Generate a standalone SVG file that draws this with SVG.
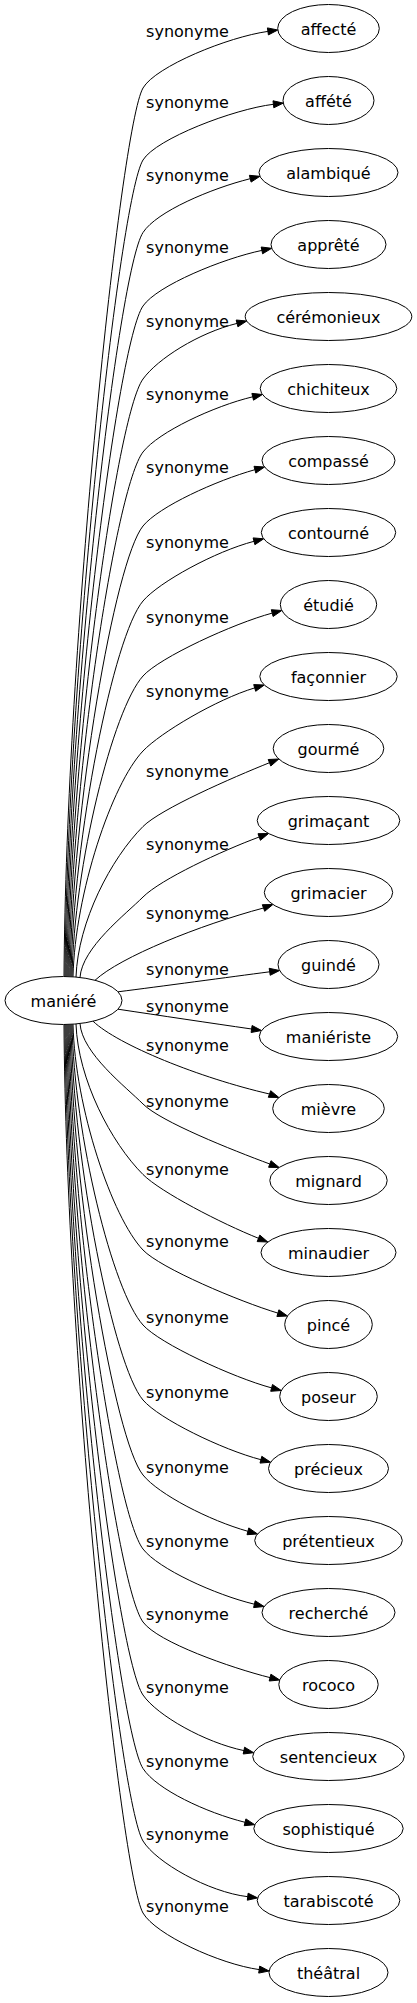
<svg xmlns="http://www.w3.org/2000/svg" width="417" height="2003" viewBox="0 0 417 2003">
<style>
.e{fill:none;stroke:#000;stroke-width:1}
.a{fill:#000;stroke:#000;stroke-width:1}
.n{fill:#fff;stroke:#000;stroke-width:1}
.t{font-family:"DejaVu Sans",Verdana,sans-serif;font-size:16px;fill:#000;text-anchor:middle}
</style>
<rect width="417" height="2003" fill="#fff"/>
<g id="connectors">
<g id="e0"><path class="e" d="M64,976.5 C66,647.8 120.5,127 143,88 C155.5,66.4 228.3,36.9 267.9,31.4"/><polygon class="a" points="277.8,30 268.4,34.9 267.4,27.9"/><text class="t" x="187.5" y="36.5">synonyme</text></g>
<g id="e1"><path class="e" d="M65,976.5 C67,674.4 119.5,198.4 143,160 C156.1,138.7 233.7,109.1 273.4,104.3"/><polygon class="a" points="283.3,103.1 273.8,107.8 273,100.8"/><text class="t" x="187.5" y="108.2">synonyme</text></g>
<g id="e2"><path class="e" d="M66,976.5 C68,701.2 118.5,270.2 143,232.5 C156.6,211.5 211.4,188.4 250.2,178.7"/><polygon class="a" points="259.9,176.3 251.1,182.1 249.4,175.3"/><text class="t" x="187.5" y="180.7">synonyme</text></g>
<g id="e3"><path class="e" d="M67,976.5 C69,728.4 117.5,343.1 143,306 C157.2,285.4 222.8,258.6 261.9,250.4"/><polygon class="a" points="271.7,248.3 262.6,253.8 261.2,247"/><text class="t" x="187.5" y="253.2">synonyme</text></g>
<g id="e4"><path class="e" d="M68,976.6 C70,755.5 116.5,415.4 143,379 C157.7,358.8 198.2,333.1 237,323.4"/><polygon class="a" points="246.7,321 237.9,326.8 236.2,320"/><text class="t" x="187.5" y="326.5">synonyme</text></g>
<g id="e5"><path class="e" d="M69,976.6 C71,782.5 115.6,487.7 143,452 C158.2,432.2 213.8,406.1 252.7,396.8"/><polygon class="a" points="262.4,394.5 253.5,400.2 251.9,393.4"/><text class="t" x="187.5" y="399.8">synonyme</text></g>
<g id="e6"><path class="e" d="M70,976.6 C72,809.9 114.7,561 143,526 C158.7,506.6 216.4,480.5 254.9,469.7"/><polygon class="a" points="264.5,467 255.8,473.1 254,466.3"/><text class="t" x="187.5" y="473.2">synonyme</text></g>
<g id="e7"><path class="e" d="M71,976.7 C73,837.7 113.8,635.2 143,601 C159.2,582 215.3,551.4 254,541.3"/><polygon class="a" points="263.7,538.8 254.9,544.7 253.1,537.9"/><text class="t" x="187.5" y="548.2">synonyme</text></g>
<g id="e8"><path class="e" d="M72,976.8 C74,865.5 112.9,709.4 143,676 C159.7,657.4 233.6,623.5 272.2,613.1"/><polygon class="a" points="281.8,610.5 273.1,616.5 271.3,609.7"/><text class="t" x="187.5" y="623.2">synonyme</text></g>
<g id="e9"><path class="e" d="M73,976.8 C75,893.3 112,783.6 143,751 C160.2,732.9 216.4,699.4 254.7,687.9"/><polygon class="a" points="264.3,685 255.7,691.3 253.7,684.6"/><text class="t" x="187.5" y="697.3">synonyme</text></g>
<g id="e10"><path class="e" d="M76,977.1 C78,921.4 111.2,858.3 143,826.5 C160.7,808.8 232.4,777.6 269.5,762.7"/><polygon class="a" points="278.8,759 270.8,766 268.2,759.5"/><text class="t" x="187.5" y="776.5">synonyme</text></g>
<g id="e11"><path class="e" d="M80,977.5 C82,947.7 125.9,914.1 143,897 C160.7,879.3 221.7,850.9 259.2,837"/><polygon class="a" points="268.6,833.5 260.4,840.3 258,833.7"/><text class="t" x="187.5" y="849.8">synonyme</text></g>
<g id="e12"><path class="e" d="M95,980.3 C120,957 200,925 263.5,908"/><polygon class="a" points="272.9,904.5 264.7,911.3 262.3,904.7"/><text class="t" x="187.5" y="919">synonyme</text></g>
<g id="e13"><path class="e" d="M118,991.8 C160,986.5 230,977 269.7,971.8"/><polygon class="a" points="279.6,970.5 270.2,975.3 269.2,968.3"/><text class="t" x="187.5" y="974.8">synonyme</text></g>
<g id="e14"><path class="e" d="M118,1009.2 C160,1015.5 210,1023 251.6,1029"/><polygon class="a" points="261.5,1030.5 251.1,1032.5 252.1,1025.5"/><text class="t" x="187.5" y="1012.3">synonyme</text></g>
<g id="e15"><path class="e" d="M93,1021.2 C118,1045 200,1078 269.5,1094"/><polygon class="a" points="278.9,1097.5 268.3,1097.3 270.7,1090.7"/><text class="t" x="187.5" y="1050.7">synonyme</text></g>
<g id="e16"><path class="e" d="M80,1023.5 C82,1053.3 125.9,1086.9 143,1104 C160.7,1121.7 232.3,1150.1 269.8,1164"/><polygon class="a" points="279.2,1167.5 268.6,1167.3 271,1160.7"/><text class="t" x="187.5" y="1106.5">synonyme</text></g>
<g id="e17"><path class="e" d="M76,1023.9 C78,1079.6 111.2,1142.7 143,1174.5 C160.7,1192.2 221.4,1223.4 258.5,1238.3"/><polygon class="a" points="267.8,1242 257.2,1241.6 259.8,1235.1"/><text class="t" x="187.5" y="1174.8">synonyme</text></g>
<g id="e18"><path class="e" d="M73,1024.2 C75,1107.7 112,1217.4 143,1250 C160.2,1268.1 239.6,1301.6 277.9,1313.1"/><polygon class="a" points="287.5,1316 276.9,1316.5 278.9,1309.8"/><text class="t" x="187.5" y="1246.5">synonyme</text></g>
<g id="e19"><path class="e" d="M72,1024.2 C74,1135.5 112.9,1291.6 143,1325 C159.7,1343.6 233,1377.5 271.6,1387.9"/><polygon class="a" points="281.3,1390.5 270.7,1391.3 272.5,1384.5"/><text class="t" x="187.5" y="1323.2">synonyme</text></g>
<g id="e20"><path class="e" d="M71,1024.3 C73,1163.3 113.8,1365.8 143,1400 C159.2,1419 222.2,1449.6 260.9,1459.7"/><polygon class="a" points="270.6,1462.2 260,1463.1 261.8,1456.3"/><text class="t" x="187.5" y="1398.2">synonyme</text></g>
<g id="e21"><path class="e" d="M70,1024.4 C72,1191.1 114.7,1440 143,1475 C158.7,1494.4 209.4,1520.5 247.9,1531.3"/><polygon class="a" points="257.5,1534 247,1534.7 248.8,1527.9"/><text class="t" x="187.5" y="1473.2">synonyme</text></g>
<g id="e22"><path class="e" d="M69,1024.4 C71,1218.5 115.6,1513.3 143,1549 C158.2,1568.8 215.5,1594.9 254.4,1604.2"/><polygon class="a" points="264.1,1606.5 253.6,1607.6 255.2,1600.8"/><text class="t" x="187.5" y="1546.5">synonyme</text></g>
<g id="e23"><path class="e" d="M68,1024.4 C70,1245.5 116.5,1585.6 143,1622 C157.7,1642.2 231.2,1667.9 270,1677.6"/><polygon class="a" points="279.7,1680 269.2,1681 270.9,1674.2"/><text class="t" x="187.5" y="1619.8">synonyme</text></g>
<g id="e24"><path class="e" d="M67,1024.5 C69,1272.6 117.5,1657.9 143,1695 C157.2,1715.6 204.8,1742.4 243.9,1750.6"/><polygon class="a" points="253.7,1752.7 243.2,1754 244.6,1747.2"/><text class="t" x="187.5" y="1693.2">synonyme</text></g>
<g id="e25"><path class="e" d="M66,1024.5 C68,1299.8 118.5,1730.8 143,1768.5 C156.6,1789.5 206.2,1812.6 245,1822.3"/><polygon class="a" points="254.7,1824.7 244.2,1825.7 245.9,1818.9"/><text class="t" x="187.5" y="1766.5">synonyme</text></g>
<g id="e26"><path class="e" d="M65,1024.5 C67,1326.6 119.5,1802.6 143,1841 C156.1,1862.3 208,1891.9 247.7,1896.7"/><polygon class="a" points="257.6,1897.9 247.3,1900.2 248.1,1893.2"/><text class="t" x="187.5" y="1839.8">synonyme</text></g>
<g id="e27"><path class="e" d="M64,1024.5 C66,1353.2 120.5,1874 143,1913 C155.5,1934.6 219.6,1964.1 259.2,1969.6"/><polygon class="a" points="269.1,1971 258.7,1973.1 259.7,1966.1"/><text class="t" x="187.5" y="1911.5">synonyme</text></g>
</g>
<g id="maniere"><ellipse class="n" cx="63.5" cy="1000.5" rx="58.5" ry="24"/><text class="t" x="63.5" y="1006.5">maniéré</text></g>
<g id="affecte"><ellipse class="n" cx="328.5" cy="28.5" rx="50.8" ry="24"/><text class="t" x="328.5" y="34.5">affecté</text></g>
<g id="affete"><ellipse class="n" cx="328.5" cy="100.5" rx="45.5" ry="24"/><text class="t" x="328.5" y="106.5">affété</text></g>
<g id="alambique"><ellipse class="n" cx="328.5" cy="172.5" rx="69.5" ry="24"/><text class="t" x="328.5" y="178.5">alambiqué</text></g>
<g id="apprete"><ellipse class="n" cx="328.5" cy="244.5" rx="57.5" ry="24"/><text class="t" x="328.5" y="250.5">apprêté</text></g>
<g id="ceremonieux"><ellipse class="n" cx="328.5" cy="316.5" rx="83.3" ry="24"/><text class="t" x="328.5" y="322.5">cérémonieux</text></g>
<g id="chichiteux"><ellipse class="n" cx="328.5" cy="388.5" rx="68.3" ry="24"/><text class="t" x="328.5" y="394.5">chichiteux</text></g>
<g id="compasse"><ellipse class="n" cx="328.5" cy="460.5" rx="66.5" ry="24"/><text class="t" x="328.5" y="466.5">compassé</text></g>
<g id="contourne"><ellipse class="n" cx="328.5" cy="532.5" rx="67.2" ry="24"/><text class="t" x="328.5" y="538.5">contourné</text></g>
<g id="etudie"><ellipse class="n" cx="328.5" cy="604.5" rx="48.2" ry="24"/><text class="t" x="328.5" y="610.5">étudié</text></g>
<g id="faconnier"><ellipse class="n" cx="328.5" cy="676.5" rx="68.7" ry="24"/><text class="t" x="328.5" y="682.5">façonnier</text></g>
<g id="gourme"><ellipse class="n" cx="328.5" cy="748.5" rx="55.3" ry="24"/><text class="t" x="328.5" y="754.5">gourmé</text></g>
<g id="grimacant"><ellipse class="n" cx="328.5" cy="820.5" rx="71.3" ry="24"/><text class="t" x="328.5" y="826.5">grimaçant</text></g>
<g id="grimacier"><ellipse class="n" cx="328.5" cy="892.5" rx="64.2" ry="24"/><text class="t" x="328.5" y="898.5">grimacier</text></g>
<g id="guinde"><ellipse class="n" cx="328.5" cy="964.5" rx="50.5" ry="24"/><text class="t" x="328.5" y="970.5">guindé</text></g>
<g id="manieriste"><ellipse class="n" cx="328.5" cy="1036.5" rx="69.2" ry="24"/><text class="t" x="328.5" y="1042.5">maniériste</text></g>
<g id="mievre"><ellipse class="n" cx="328.5" cy="1108.5" rx="55.8" ry="24"/><text class="t" x="328.5" y="1114.5">mièvre</text></g>
<g id="mignard"><ellipse class="n" cx="328.5" cy="1180.5" rx="58.7" ry="24"/><text class="t" x="328.5" y="1186.5">mignard</text></g>
<g id="minaudier"><ellipse class="n" cx="328.5" cy="1252.5" rx="67.5" ry="24"/><text class="t" x="328.5" y="1258.5">minaudier</text></g>
<g id="pince"><ellipse class="n" cx="328.5" cy="1324.5" rx="43.8" ry="24"/><text class="t" x="328.5" y="1330.5">pincé</text></g>
<g id="poseur"><ellipse class="n" cx="328.5" cy="1396.5" rx="48.8" ry="24"/><text class="t" x="328.5" y="1402.5">poseur</text></g>
<g id="precieux"><ellipse class="n" cx="328.5" cy="1468.5" rx="60" ry="24"/><text class="t" x="328.5" y="1474.5">précieux</text></g>
<g id="pretentieux"><ellipse class="n" cx="328.5" cy="1540.5" rx="73.8" ry="24"/><text class="t" x="328.5" y="1546.5">prétentieux</text></g>
<g id="recherche"><ellipse class="n" cx="328.5" cy="1612.5" rx="66.5" ry="24"/><text class="t" x="328.5" y="1618.5">recherché</text></g>
<g id="rococo"><ellipse class="n" cx="328.5" cy="1684.5" rx="49.7" ry="24"/><text class="t" x="328.5" y="1690.5">rococo</text></g>
<g id="sentencieux"><ellipse class="n" cx="328.5" cy="1756.5" rx="75.8" ry="24"/><text class="t" x="328.5" y="1762.5">sentencieux</text></g>
<g id="sophistique"><ellipse class="n" cx="328.5" cy="1828.5" rx="74.7" ry="24"/><text class="t" x="328.5" y="1834.5">sophistiqué</text></g>
<g id="tarabiscote"><ellipse class="n" cx="328.5" cy="1900.5" rx="71.3" ry="24"/><text class="t" x="328.5" y="1906.5">tarabiscoté</text></g>
<g id="theatral"><ellipse class="n" cx="328.5" cy="1972.5" rx="59.5" ry="24"/><text class="t" x="328.5" y="1978.5">théâtral</text></g>
</svg>
